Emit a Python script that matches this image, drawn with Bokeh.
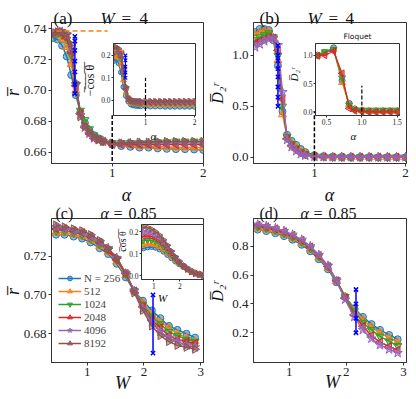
from math import pi
from bokeh.plotting import figure
from bokeh.models import (GridBox, Label, Legend, LegendItem, FixedTicker,
                          Range1d, ColumnDataSource, PrintfTickFormatter)
from bokeh.embed import file_html
from bokeh.resources import INLINE

# ---------------------------------------------------------------- data
size_labels = ["N = 256", "512", "1024", "2048", "4096", "8192"]

# panel (a) / (b) / inset (a): alpha grid
alpha_vals = [0.35, 0.40, 0.45, 0.50, 0.55, 0.60, 0.65, 0.70, 0.75, 0.80, 0.85, 0.90,
              1.0, 1.1, 1.2, 1.3, 1.4, 1.5, 1.6, 1.7, 1.8, 1.9, 2.0]

rbar_a_256 = [0.734, 0.733, 0.729, 0.722, 0.710, 0.697, 0.686, 0.679, 0.674, 0.671, 0.669, 0.667,
              0.665, 0.664, 0.6635, 0.663, 0.663, 0.6625, 0.6622, 0.662, 0.662, 0.6618, 0.6615]
rbar_a_512 = [0.736, 0.736, 0.733, 0.728, 0.717, 0.700, 0.686, 0.678, 0.673, 0.670, 0.668, 0.667,
              0.6655, 0.665, 0.6645, 0.664, 0.664, 0.6635, 0.6635, 0.663, 0.663, 0.663, 0.663]
rbar_a_1024 = [0.737, 0.737, 0.736, 0.733, 0.723, 0.703, 0.687, 0.681, 0.675, 0.671, 0.669, 0.667,
               0.666, 0.666, 0.666, 0.666, 0.666, 0.6665, 0.6665, 0.667, 0.667, 0.667, 0.667]
rbar_a_2048 = [0.737, 0.738, 0.737, 0.734, 0.725, 0.703, 0.685, 0.676, 0.672, 0.669, 0.668, 0.667,
               0.665, 0.665, 0.665, 0.665, 0.665, 0.665, 0.665, 0.665, 0.665, 0.665, 0.665]
rbar_a_4096 = [0.737, 0.738, 0.738, 0.736, 0.728, 0.704, 0.684, 0.676, 0.672, 0.669, 0.668, 0.667,
               0.6655, 0.6655, 0.666, 0.666, 0.666, 0.666, 0.666, 0.666, 0.666, 0.666, 0.666]
rbar_a_8192 = [0.737, 0.738, 0.738, 0.737, 0.730, 0.705, 0.683, 0.677, 0.673, 0.670, 0.668, 0.667,
               0.666, 0.666, 0.666, 0.6665, 0.6665, 0.667, 0.667, 0.667, 0.667, 0.667, 0.667]

d2_b_256 = [1.23, 1.26, 1.26, 1.25, 1.15, 0.90, 0.45, 0.22, 0.16, 0.12, 0.08, 0.05,
            0.02, 0.01, 0.005, 0.003, 0.002, 0.001, 0.001, 0.0, 0.0, 0.0, 0.0]
d2_b_512 = [1.20, 1.23, 1.24, 1.24, 1.17, 0.95, 0.42, 0.20, 0.14, 0.10, 0.06, 0.04,
            0.015, 0.008, 0.004, 0.002, 0.001, 0.0, 0.0, 0.0, 0.0, 0.0, 0.0]
d2_b_1024 = [1.15, 1.18, 1.20, 1.22, 1.18, 1.00, 0.50, 0.20, 0.13, 0.09, 0.05, 0.03,
             0.01, 0.005, 0.002, 0.001, 0.0, 0.0, 0.0, 0.0, 0.0, 0.0, 0.0]
d2_b_2048 = [1.12, 1.14, 1.16, 1.18, 1.17, 1.05, 0.57, 0.18, 0.11, 0.07, 0.04, 0.02,
             0.008, 0.003, 0.001, 0.0, 0.0, 0.0, 0.0, 0.0, 0.0, 0.0, 0.0]
d2_b_4096 = [1.08, 1.11, 1.14, 1.16, 1.17, 1.10, 0.64, 0.17, 0.10, 0.06, 0.03, 0.015,
             0.005, 0.002, 0.0, 0.0, 0.0, 0.0, 0.0, 0.0, 0.0, 0.0, 0.0]

mcos_a_256 = [0.175, 0.185, 0.165, 0.125, 0.060, 0.020, -0.005, -0.018, -0.022, -0.024, -0.025, -0.026,
              -0.026, -0.027, -0.027, -0.027, -0.028, -0.028, -0.028, -0.028, -0.028, -0.028, -0.028]
mcos_a_512 = [0.195, 0.205, 0.190, 0.160, 0.090, 0.035, 0.003, -0.010, -0.014, -0.016, -0.017, -0.018,
              -0.018, -0.019, -0.019, -0.019, -0.019, -0.019, -0.019, -0.019, -0.019, -0.019, -0.019]
mcos_a_1024 = [0.210, 0.220, 0.210, 0.185, 0.115, 0.045, 0.008, -0.004, -0.008, -0.010, -0.010, -0.011,
               -0.011, -0.011, -0.011, -0.011, -0.011, -0.011, -0.011, -0.011, -0.011, -0.011, -0.011]
mcos_a_2048 = [0.215, 0.225, 0.215, 0.195, 0.125, 0.050, 0.008, -0.003, -0.007, -0.008, -0.009, -0.009,
               -0.009, -0.009, -0.009, -0.009, -0.009, -0.009, -0.009, -0.009, -0.009, -0.009, -0.009]
mcos_a_4096 = [0.220, 0.230, 0.222, 0.205, 0.135, 0.055, 0.008, -0.002, -0.005, -0.006, -0.006, -0.006,
               -0.006, -0.006, -0.006, -0.006, -0.006, -0.006, -0.006, -0.006, -0.006, -0.006, -0.006]
mcos_a_8192 = [0.230, 0.237, 0.230, 0.215, 0.145, 0.060, 0.008, -0.001, -0.003, -0.004, -0.004, -0.004,
               -0.004, -0.004, -0.004, -0.004, -0.004, -0.004, -0.004, -0.004, -0.004, -0.004, -0.004]

# inset (b): Floquet
alpha_floquet = [0.375, 0.475, 0.60, 0.72, 0.82, 0.90, 1.0, 1.1, 1.2, 1.3, 1.4, 1.5]
d2_fl_256 = [1.00, 1.05, 1.13, 0.55, 0.15, 0.05, 0.02, 0.01, 0.01, 0.01, 0.01, 0.01]
d2_fl_512 = [0.99, 1.04, 1.10, 0.52, 0.13, 0.04, 0.02, 0.01, 0.01, 0.01, 0.01, 0.01]
d2_fl_1024 = [1.00, 1.06, 1.10, 0.60, 0.12, 0.04, 0.03, 0.03, 0.03, 0.03, 0.03, 0.03]
d2_fl_2048 = [0.99, 1.00, 1.07, 0.68, 0.06, 0.02, 0.01, 0.0, 0.0, 0.0, 0.0, 0.0]

# panels (c) / (d) / inset (c): disorder grid
w_vals = [0.45, 0.60, 0.76, 0.91, 1.06, 1.22, 1.37, 1.52, 1.68, 1.83, 1.98, 2.14, 2.29, 2.44, 2.59, 2.75, 2.90]

rbar_c_256 = [0.731, 0.731, 0.730, 0.729, 0.727, 0.724, 0.721, 0.716, 0.709, 0.702, 0.697, 0.692, 0.688, 0.684, 0.682, 0.680, 0.678]
rbar_c_512 = [0.732, 0.732, 0.731, 0.730, 0.728, 0.725, 0.722, 0.717, 0.710, 0.702, 0.696, 0.690, 0.686, 0.683, 0.680, 0.678, 0.676]
rbar_c_1024 = [0.733, 0.733, 0.732, 0.731, 0.729, 0.726, 0.723, 0.718, 0.711, 0.702, 0.695, 0.689, 0.685, 0.681, 0.679, 0.677, 0.676]
rbar_c_2048 = [0.734, 0.734, 0.733, 0.732, 0.730, 0.727, 0.723, 0.718, 0.711, 0.702, 0.694, 0.687, 0.683, 0.679, 0.677, 0.676, 0.675]
rbar_c_4096 = [0.735, 0.734, 0.733, 0.732, 0.730, 0.727, 0.724, 0.719, 0.711, 0.702, 0.693, 0.686, 0.681, 0.678, 0.676, 0.674, 0.673]
rbar_c_8192 = [0.736, 0.735, 0.734, 0.733, 0.731, 0.728, 0.724, 0.719, 0.711, 0.701, 0.692, 0.684, 0.679, 0.676, 0.674, 0.673, 0.672]

d2_d_256 = [0.915, 0.905, 0.890, 0.870, 0.845, 0.810, 0.765, 0.710, 0.640, 0.550, 0.450, 0.370, 0.310, 0.260, 0.220, 0.185, 0.155]
d2_d_512 = [0.925, 0.915, 0.900, 0.880, 0.855, 0.820, 0.775, 0.720, 0.650, 0.555, 0.450, 0.360, 0.290, 0.240, 0.200, 0.165, 0.135]
d2_d_1024 = [0.935, 0.925, 0.910, 0.890, 0.865, 0.830, 0.785, 0.730, 0.660, 0.565, 0.450, 0.350, 0.270, 0.220, 0.175, 0.140, 0.110]
d2_d_2048 = [0.945, 0.935, 0.920, 0.900, 0.875, 0.840, 0.795, 0.735, 0.660, 0.560, 0.440, 0.325, 0.245, 0.180, 0.135, 0.105, 0.080]
d2_d_4096 = [0.950, 0.940, 0.925, 0.905, 0.880, 0.845, 0.800, 0.740, 0.665, 0.560, 0.430, 0.310, 0.220, 0.160, 0.115, 0.085, 0.060]

cos_c_256 = [0.120, 0.125, 0.130, 0.131, 0.128, 0.120, 0.110, 0.095, 0.080, 0.065, 0.052, 0.040, 0.030, 0.021, 0.014, 0.009, 0.005]
cos_c_512 = [0.135, 0.140, 0.145, 0.145, 0.140, 0.132, 0.120, 0.103, 0.086, 0.069, 0.055, 0.042, 0.031, 0.021, 0.013, 0.008, 0.004]
cos_c_1024 = [0.155, 0.160, 0.163, 0.162, 0.156, 0.146, 0.132, 0.114, 0.094, 0.075, 0.058, 0.043, 0.031, 0.020, 0.012, 0.007, 0.003]
cos_c_2048 = [0.175, 0.180, 0.182, 0.180, 0.172, 0.160, 0.144, 0.124, 0.101, 0.080, 0.061, 0.044, 0.030, 0.019, 0.011, 0.006, 0.002]
cos_c_4096 = [0.195, 0.200, 0.200, 0.196, 0.187, 0.173, 0.155, 0.133, 0.108, 0.084, 0.063, 0.045, 0.030, 0.018, 0.010, 0.005, 0.001]
cos_c_8192 = [0.220, 0.222, 0.220, 0.213, 0.202, 0.186, 0.165, 0.140, 0.113, 0.087, 0.064, 0.045, 0.029, 0.017, 0.009, 0.004, 0.000]

# crossing-point bars, reference levels
cross_a_x, cross_a_y = 0.59, [0.735, 0.732, 0.726, 0.719, 0.712, 0.704, 0.698]
cross_ia_x, cross_ia_y = 0.59, [0.200, 0.178, 0.150, 0.124, 0.100]
cross_b_x, cross_b_y = 0.60, [1.10, 1.00, 0.95, 0.87, 0.79, 0.69, 0.59, 0.50]
cross_c_x, cross_c_y = 2.16, [0.700, 0.670]
cross_d_x, cross_d_y = 2.17, [0.50, 0.40, 0.30, 0.20]
alpha_c = 1.0
dash_a_y = [0.60, 0.684]
dash_ia_y = [-0.1, 0.10]
dash_b_y = [-0.1, 0.45]
dash_ib_y = [-0.1, 0.46]
ref_a_x, ref_a_y = [0.30, 0.95], 0.7385
ref_ia_x, ref_ia_y = [0.30, 0.557], 0.222

# ---------------------------------------------------------------- style
SERIF = "Liberation Serif"
SANS = "DejaVu Sans"
COLORS = ["#1f77b4", "#ff7f0e", "#2ca02c", "#d62728", "#9467bd", "#8c564b"]
MARKERS = [("circle", 0.0), ("triangle", 0.0), ("inverted_triangle", 0.0),
           ("triangle", pi / 2), ("star", 0.0), ("triangle", -pi / 2)]
MSCALE = [1.0, 1.15, 1.15, 1.15, 1.4, 1.15]
OL = "#333333"
PAGE_W, PAGE_H = 410, 396

# canvas boxes & frames in page pixels (left, right, top, bottom)
CA, FA = (0, 208, 0, 203), (51, 203, 22, 163)
CB, FB = (208, PAGE_W, 0, 203), (253, 406, 22, 163)
CC, FC = (0, 208, 203, PAGE_H), (51, 203, 218, 362)
CD, FD = (208, PAGE_W, 203, PAGE_H), (253, 406, 218, 362)
CIA, FIA = (78, 200, 35, 142), (113, 195, 43, 116)
CIB, FIB = (280, 405, 28, 142), (315, 399, 43, 115)
CIC, FIC = (112, 206, 220, 302), (141, 203, 224, 279)
COV = (1, PAGE_W - 1, 1, PAGE_H - 1)   # own grid lines, so no frame alignment


def make_fig(canvas, frame, xr, yr, xticks, yticks, xfmt, yfmt, tick_px, inset=False):
    cl, cr, ct, cb = canvas
    fl, fr, ft, fb = frame
    p = figure(width=cr - cl, height=cb - ct, x_range=Range1d(*xr), y_range=Range1d(*yr),
               output_backend="svg", toolbar_location=None, title=None,
               min_border_left=fl - cl, min_border_right=cr - fr,
               min_border_top=ft - ct, min_border_bottom=cb - fb)
    p.xgrid.visible = False
    p.ygrid.visible = False
    p.outline_line_color = OL
    p.outline_line_width = 1
    p.background_fill_color = "white"
    p.border_fill_color = None if inset else "white"
    for ax, ticks, fmt in ((p.xaxis[0], xticks, xfmt), (p.yaxis[0], yticks, yfmt)):
        ax.ticker = FixedTicker(ticks=ticks)
        ax.formatter = PrintfTickFormatter(format=fmt)
        ax.minor_tick_line_color = None
        ax.major_tick_in = 0
        ax.major_tick_out = 2 if inset else 3
        ax.major_tick_line_color = OL
        ax.axis_line_color = OL
        ax.major_label_standoff = 1 if inset else 2
        ax.major_label_text_font = SERIF
        ax.major_label_text_font_size = f"{tick_px}px"
        ax.major_label_text_color = "#222222"
    return p


# transparent overlay figure that carries every free text (titles, axis labels)
ov = figure(width=COV[1] - COV[0], height=COV[3] - COV[2], x_range=Range1d(0, 1), y_range=Range1d(0, 1),
            output_backend="svg", toolbar_location=None, title=None,
            x_axis_location=None, y_axis_location=None,
            min_border=0, min_border_left=0, min_border_right=0, min_border_top=0, min_border_bottom=0)
ov.grid.visible = False
ov.outline_line_color = None
ov.background_fill_color = None
ov.border_fill_color = None


def text(s, x, y, size, italic=False, angle=0.0, align="center", baseline="middle", font=SERIF):
    ov.add_layout(Label(x=x - COV[0], y=COV[3] - y, x_units="screen", y_units="screen", text=s,
                        text_font=font, text_font_size=f"{size}px",
                        text_font_style="italic" if italic else "normal",
                        text_align=align, text_baseline=baseline, angle=angle,
                        text_color="#111111"))


def series(p, x, ys, size, lw):
    out = []
    for i, y in enumerate(ys):
        src = ColumnDataSource(dict(x=x, y=y))
        c = COLORS[i]
        m, ang = MARKERS[i]
        ln = p.line("x", "y", source=src, line_color=c, line_width=lw)
        sc = p.scatter("x", "y", source=src, marker=m, angle=ang, size=size * MSCALE[i],
                       line_color=c, fill_color=c, fill_alpha=0.5, line_width=1)
        out.append((ln, sc))
    return out


def crossbar(p, x, ys, size, lw):
    src = ColumnDataSource(dict(x=[x] * len(ys), y=ys))
    p.line("x", "y", source=src, line_color="#0000ff", line_width=lw)
    p.scatter("x", "y", source=src, marker="x", size=size, line_color="#0000ff", line_width=lw)


def vdash(p, x, ys, lw=1.5):
    p.line([x, x], ys, line_color="black", line_dash="4 2", line_width=lw)


def hdash(p, xs, y, lw=1.5):
    p.line(xs, [y, y], line_color="#ff7f0e", line_dash="5 3", line_width=lw)


# ---------------------------------------------------------------- panel (a)
pa = make_fig(CA, FA, (0.333, 2.003), (0.6527, 0.744), [1, 2],
              [0.66, 0.68, 0.70, 0.72, 0.74], "%d", "%.2f", 13)
series(pa, alpha_vals, [rbar_a_256, rbar_a_512, rbar_a_1024, rbar_a_2048, rbar_a_4096, rbar_a_8192], 7, 1.5)
crossbar(pa, cross_a_x, cross_a_y, 6, 1.5)
hdash(pa, ref_a_x, ref_a_y)
vdash(pa, alpha_c, dash_a_y)

# ---------------------------------------------------------------- panel (b)
pb = make_fig(CB, FB, (0.332, 2.01), (-0.062, 1.324), [1, 2], [0.0, 0.5, 1.0], "%d", "%.1f", 13)
series(pb, alpha_vals, [d2_b_256, d2_b_512, d2_b_1024, d2_b_2048, d2_b_4096], 7, 1.5)
crossbar(pb, cross_b_x, cross_b_y, 6, 1.5)
vdash(pb, alpha_c, dash_b_y)

# ---------------------------------------------------------------- panel (c)
pc = make_fig(CC, FC, (0.37, 3.05), (0.6652, 0.7393), [1, 2, 3], [0.68, 0.70, 0.72], "%d", "%.2f", 13)
rend_c = series(pc, w_vals, [rbar_c_256, rbar_c_512, rbar_c_1024, rbar_c_2048, rbar_c_4096, rbar_c_8192], 7, 1.5)
crossbar(pc, cross_c_x, cross_c_y, 6, 1.5)
legend = Legend(items=[LegendItem(label=lab, renderers=[ln, sc]) for lab, (ln, sc) in zip(size_labels, rend_c)],
                location=(7, 13), glyph_width=23, glyph_height=12, label_height=12, spacing=1,
                padding=0, margin=0, label_standoff=3, label_text_font=SERIF,
                label_text_font_size="11px", background_fill_alpha=0, border_line_color=None)
pc.add_layout(legend)

# ---------------------------------------------------------------- panel (d)
pd_ = make_fig(CD, FD, (0.376, 3.054), (-0.006, 0.992), [1, 2, 3], [0.2, 0.4, 0.6, 0.8], "%d", "%.1f", 13)
series(pd_, w_vals, [d2_d_256, d2_d_512, d2_d_1024, d2_d_2048, d2_d_4096], 7, 1.5)
crossbar(pd_, cross_d_x, cross_d_y, 6, 1.5)

# ---------------------------------------------------------------- inset (a)
ia = make_fig(CIA, FIA, (0.347, 2.02), (-0.067, 0.2525), [1, 2], [0.0, 0.1, 0.2], "%d", "%.1f", 7.5, inset=True)
series(ia, alpha_vals, [mcos_a_256, mcos_a_512, mcos_a_1024, mcos_a_2048, mcos_a_4096, mcos_a_8192], 5, 1.2)
crossbar(ia, cross_ia_x, cross_ia_y, 5, 1.2)
hdash(ia, ref_ia_x, ref_ia_y, 1.2)
vdash(ia, alpha_c, dash_ia_y, 1.2)

# ---------------------------------------------------------------- inset (b)
ib = make_fig(CIB, FIB, (0.344, 1.533), (-0.065, 1.207), [0.5, 1.0, 1.5], [0.0, 0.5, 1.0], "%.1f", "%.1f", 7.5, inset=True)
series(ib, alpha_floquet, [d2_fl_256, d2_fl_512, d2_fl_1024, d2_fl_2048], 6, 1.2)
vdash(ib, alpha_c, dash_ib_y, 1.2)

# ---------------------------------------------------------------- inset (c)
ic = make_fig(CIC, FIC, (0.527, 2.91), (-0.017, 0.234), [1, 2], [0.0, 0.1, 0.2], "%d", "%.1f", 7.5, inset=True)
series(ic, w_vals, [cos_c_256, cos_c_512, cos_c_1024, cos_c_2048, cos_c_4096, cos_c_8192], 5, 1.2)

# ---------------------------------------------------------------- free texts
TB1, TB2 = 18.0, 213.0   # title baselines
text("(a)", 53, TB1, 17, align="left", baseline="alphabetic")
text("W", 100, TB1, 17, italic=True, align="left", baseline="alphabetic")
text("=", 121, TB1, 17, align="left", baseline="alphabetic")
text("4", 139, TB1, 17, align="left", baseline="alphabetic")
text("α", 126, 194, 18, italic=True, baseline="alphabetic")
text("r\u0305", 12, 92, 18, italic=True, angle=pi / 2)

text("(b)", 259, TB1, 17, align="left", baseline="alphabetic")
text("W", 307, TB1, 17, italic=True, align="left", baseline="alphabetic")
text("=", 328, TB1, 17, align="left", baseline="alphabetic")
text("4", 345, TB1, 17, align="left", baseline="alphabetic")
text("α", 329, 194, 18, italic=True, baseline="alphabetic")
text("D\u0305\u2082\u02b3", 217, 93, 16, italic=True, angle=pi / 2)

text("(c)", 55, TB2, 16, align="left", baseline="alphabetic")
text("α", 100, TB2, 16, italic=True, align="left", baseline="alphabetic")
text("=", 113, TB2, 16, align="left", baseline="alphabetic")
text("0.85", 128, TB2, 16, align="left", baseline="alphabetic")
text("W", 122, 382, 18, italic=True)
text("r\u0305", 12, 291, 18, italic=True, angle=pi / 2)

text("(d)", 259, TB2, 16, align="left", baseline="alphabetic")
text("α", 300, TB2, 16, italic=True, align="left", baseline="alphabetic")
text("=", 313, TB2, 16, align="left", baseline="alphabetic")
text("0.85", 328, TB2, 16, align="left", baseline="alphabetic")
text("W", 332, 381, 18, italic=True)
text("D\u0305\u2082\u02b3", 217, 291, 16, italic=True, angle=pi / 2)

text("\u2212\u0305c\u0305o\u0305s\u0305 \u0305\u03b8\u0305", 89, 80, 12, angle=pi / 2)
text("α", 153, 135, 11, italic=True)
text("Floquet", 357, 35.5, 7.5, font=SANS)
text("D\u0305\u2082\u02b3", 293, 74, 11, italic=True, angle=pi / 2)
text("α", 353, 135, 11, italic=True)
text("c\u0305o\u0305s\u0305 \u0305\u03b8\u0305", 122, 241, 10, angle=pi / 2)
text("W", 162, 297, 11, italic=True)

# ---------------------------------------------------------------- layout (overlapping grid cells)
boxes = [(pa, CA), (pb, CB), (pc, CC), (pd_, CD), (ia, CIA), (ib, CIB), (ic, CIC), (ov, COV)]
xs = sorted({v for _, c in boxes for v in (c[0], c[1])})
ys = sorted({v for _, c in boxes for v in (c[2], c[3])})
children = []
for f, (l, r, t, b) in boxes:
    c0, c1 = xs.index(l), xs.index(r)
    r0, r1 = ys.index(t), ys.index(b)
    children.append((f, r0, c0, r1 - r0, c1 - c0))
grid = GridBox(children=children,
               rows=[f"{b - a}px" for a, b in zip(ys, ys[1:])],
               cols=[f"{b - a}px" for a, b in zip(xs, xs[1:])],
               spacing=0)

open("out.html", "w").write(file_html(grid, INLINE, title="plot"))
